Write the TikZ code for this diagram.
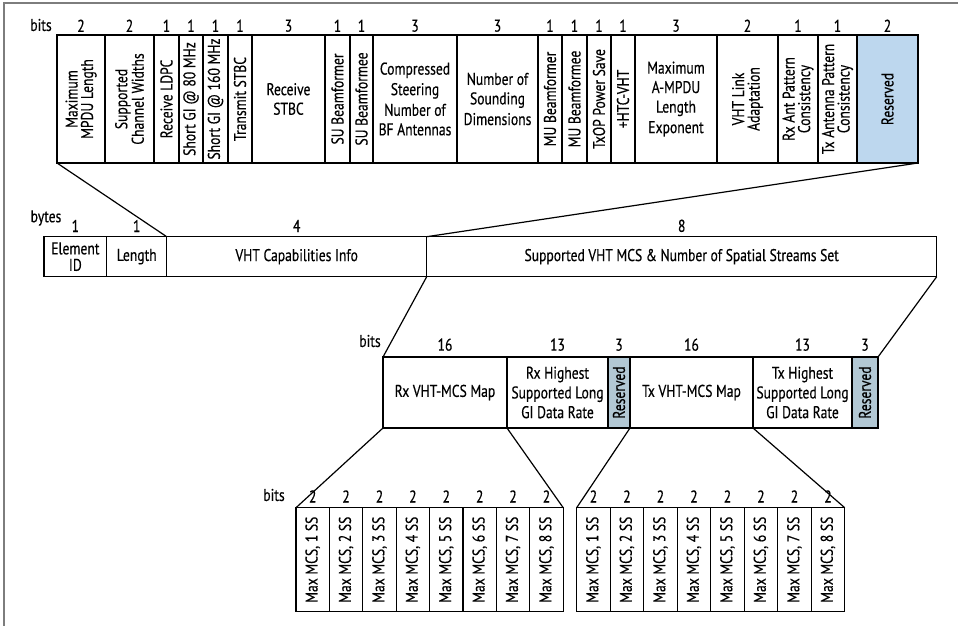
\documentclass[tikz,border=0pt]{standalone}
\usepackage{fontspec}
\setmainfont{PT Sans}[FakeStretch=0.8,FakeBold=0.4]
\usetikzlibrary{positioning}
\definecolor{resblue}{RGB}{189,215,238}
\definecolor{resgray}{RGB}{178,200,212}
\definecolor{framegray}{RGB}{125,125,125}
\tikzset{
  field/.style  ={draw,line width=1.2pt,anchor=north west,inner sep=0pt,outer sep=0pt},
  lab/.style    ={font=\fontsize{17}{15.5}\selectfont,align=center,inner sep=0pt},
  num/.style    ={font=\fontsize{17}{16}\selectfont,inner sep=0pt},
  unitlab/.style={font=\fontsize{17}{16}\selectfont,inner sep=0pt},
  zoomline/.style={line width=1.2pt},
}
\begin{document}
\begin{tikzpicture}[x=1pt,y=-1pt]
  \useasboundingbox (0,0) rectangle (958,626);
  \draw[framegray,line width=1.3pt] (4,626) -- (4,3) -- (958,3);

  % capability bits
  \node[unitlab](bitsA) at (41,25){bits};
  \foreach \xa/\xb/\n/\r/\c/\t [count=\i] in {
      57/105/2/90/white/{Maximum\\MPDU Length},
      105/154/2/90/white/{Supported\\Channel Widths},
      154/179/1/90/white/{Receive LDPC},
      179/203/1/90/white/{Short GI @ 80 MHz},
      203/228/1/90/white/{Short GI @ 160 MHz},
      228/252/1/90/white/{Transmit STBC},
      252/325/3/0/white/{Receive\\[4pt]STBC},
      325/350/1/90/white/{SU Beamformer},
      350/373/1/90/white/{SU Beamformee},
      373/457/3/0/white/{Compressed\\[4pt]Steering\\[4pt]Number of\\[4pt]BF Antennas},
      457/538/3/0/white/{Number of\\[4pt]Sounding\\[4pt]Dimensions},
      538/562/1/90/white/{MU Beamformer},
      562/587/1/90/white/{MU Beamformee},
      587/611/1/90/white/{TxOP Power Save},
      611/635/1/90/white/{+HTC-VHT},
      635/717/3/0/white/{Maximum\\[4pt]A-MPDU\\[4pt]Length\\[4pt]Exponent},
      717/778/2/90/white/{VHT Link\\Adaptation},
      778/818/1/90/white/{Rx Ant Pattern\\Consistency},
      818/857/1/90/white/{Tx Antenna Pattern\\Consistency},
      857/918/2/90/resblue/{Reserved}}{
    \node[field,fill=\c,minimum width=\xb pt-\xa pt,minimum height=128pt](f\i) at (\xa,35){};
    \node[lab,rotate=\r] at (f\i){\t};
    \node[num,above=3pt of f\i]{\n};
  }

  % element bytes
  \node[unitlab](bytesA) at (46,218){bytes};
  \foreach \xa/\xb/\n/\t [count=\i] in {
      44/106.7/1/{Element\\[1pt]ID},
      106.7/166.7/1/{Length},
      166.7/426.7/4/{VHT Capabilities Info},
      426.7/936.7/8/{Supported VHT MCS \& Number of Spatial Streams Set}}{
    \node[field,minimum width=\xb pt-\xa pt,minimum height=40pt](b\i) at (\xa,236.7){};
    \node[lab] at (b\i){\t};
    \node[num,above=4.5pt of b\i]{\n};
  }

  % MCS and NSS set bits
  \node[unitlab](bitsB) at (370,341){bits};
  \foreach \xa/\xb/\n/\r/\c/\t [count=\i] in {
      383/507/16/0/white/{Rx VHT-MCS Map},
      507/608/13/0/white/{Rx Highest\\[3pt]Supported Long\\[3pt]GI Data Rate},
      608/630/3/90/resgray/{Reserved},
      630/753/16/0/white/{Tx VHT-MCS Map},
      753/852/13/0/white/{Tx Highest\\[3pt]Supported Long\\[3pt]GI Data Rate},
      852/878/3/90/resgray/{Reserved}}{
    \node[field,fill=\c,minimum width=\xb pt-\xa pt,minimum height=71pt](m\i) at (\xa,357){};
    \node[lab,rotate=\r] at (m\i){\t};
    \node[num,above=6pt of m\i]{\n};
  }

  % per stream bits
  \node[unitlab](bitsC) at (274,495){bits};
  \foreach \k in {1,...,8}{
    \node[field,minimum width=33.4pt,minimum height=104pt](l\k) at ({296+33.4*(\k-1)},507.7){};
    \node[lab,rotate=90] at (l\k){Max MCS, \k\ SS};
    \node[num,above=5pt of l\k]{2};
    \node[field,minimum width=33.5pt,minimum height=104pt](r\k) at ({576.7+33.5*(\k-1)},507.7){};
    \node[lab,rotate=90] at (r\k){Max MCS, \k\ SS};
    \node[num,above=5pt of r\k]{2};
  }

  \draw[zoomline](f1.south west)--(b3.north west);
  \draw[zoomline](f20.south east)--(b3.north east);
  \draw[zoomline](b4.south west)--(m1.north west);
  \draw[zoomline](b4.south east)--(m6.north east);
  \draw[zoomline](m1.south west)--(l1.north west);
  \draw[zoomline](m1.south east)--(l8.north east);
  \draw[zoomline](m4.south west)--(r1.north west);
  \draw[zoomline](m4.south east)--(r8.north east);
\end{tikzpicture}
\end{document}
